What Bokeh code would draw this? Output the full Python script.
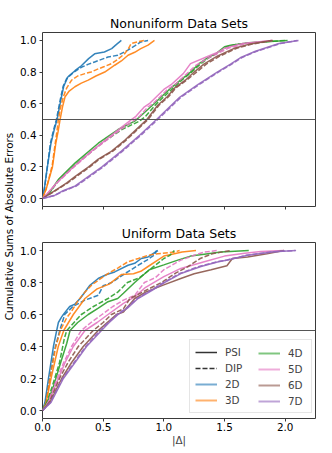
import numpy as np
from bokeh.plotting import figure
from bokeh.models import Range1d, Span, Legend, LegendItem, Label, FixedTicker
from bokeh.layouts import row, column
from bokeh.embed import file_html
from bokeh.resources import INLINE

FONT = "DejaVu Sans"

dims = ["2D", "3D", "4D", "5D", "6D", "7D"]
dim_colors = ["#1f77b4", "#ff7f0e", "#2ca02c", "#e377c2", "#8c564b", "#9467bd"]
methods = ["PSI", "DIP"]
panel_titles = ["Nonuniform Data Sets", "Uniform Data Sets"]
x_tick_values = [0.0, 0.5, 1.0, 1.5, 2.0]
x_tick_labels = ["0.0", "0.5", "1.0", "1.5", "2.0"]
y_tick_values = [0.0, 0.2, 0.4, 0.6, 0.8, 1.0]
y_tick_labels = ["0.0", "0.2", "0.4", "0.6", "0.8", "1.0"]
y_label = "Cumulative Sums of Absolute Errors"
x_label = "|Δ|"

# ---------------- Nonuniform data sets ----------------
nu_2d_psi_x = [0, 0.015, 0.04, 0.07, 0.095, 0.12, 0.15, 0.175, 0.21, 0.27, 0.32, 0.38, 0.43, 0.51, 0.57, 0.61, 0.65]
nu_2d_psi_y = [0, 0.06, 0.2, 0.35, 0.43, 0.5, 0.62, 0.71, 0.77, 0.81, 0.84, 0.885, 0.915, 0.927, 0.948, 0.975, 1.0]
nu_2d_dip_x = [0, 0.015, 0.04, 0.065, 0.09, 0.115, 0.145, 0.17, 0.2, 0.26, 0.32, 0.38, 0.43, 0.54, 0.62, 0.70, 0.76, 0.81, 0.87]
nu_2d_dip_y = [0, 0.06, 0.2, 0.35, 0.43, 0.5, 0.62, 0.71, 0.76, 0.80, 0.83, 0.85, 0.864, 0.895, 0.906, 0.937, 0.965, 0.99, 1.0]
nu_3d_psi_x = [0, 0.03, 0.06, 0.082, 0.11, 0.13, 0.145, 0.165, 0.186, 0.22, 0.267, 0.32, 0.377, 0.44, 0.513, 0.56, 0.595, 0.65, 0.705, 0.76, 0.81, 0.87, 0.923]
nu_3d_psi_y = [0, 0.06, 0.14, 0.2, 0.35, 0.43, 0.5, 0.58, 0.644, 0.68, 0.707, 0.73, 0.749, 0.775, 0.80, 0.825, 0.843, 0.87, 0.906, 0.925, 0.948, 0.97, 1.0]
nu_3d_dip_x = [0, 0.03, 0.06, 0.08, 0.105, 0.12, 0.131, 0.15, 0.172, 0.2, 0.24, 0.29, 0.35, 0.4, 0.46, 0.51, 0.568, 0.62, 0.677, 0.71, 0.73, 0.78, 0.84]
nu_3d_dip_y = [0, 0.06, 0.15, 0.21, 0.35, 0.43, 0.5, 0.58, 0.644, 0.70, 0.749, 0.775, 0.79, 0.80, 0.82, 0.835, 0.853, 0.88, 0.916, 0.95, 0.98, 0.99, 1.0]
nu_4d_psi_x = [0, 0.06, 0.13, 0.27, 0.46, 0.62, 0.76, 0.82, 0.92, 0.98, 1.06, 1.14, 1.22, 1.29, 1.36, 1.43, 1.5, 1.55, 1.7, 2.02]
nu_4d_psi_y = [0, 0.04, 0.12, 0.226, 0.35, 0.435, 0.49, 0.53, 0.6, 0.644, 0.7, 0.75, 0.8, 0.853, 0.89, 0.916, 0.96, 0.969, 0.985, 1.0]
nu_4d_dip_x = [0, 0.06, 0.14, 0.29, 0.49, 0.65, 0.80, 0.85, 0.94, 1.0, 1.08, 1.15, 1.23, 1.30, 1.37, 1.44, 1.52, 1.6, 1.8, 2.0]
nu_4d_dip_y = [0, 0.04, 0.12, 0.226, 0.351, 0.435, 0.49, 0.52, 0.6, 0.644, 0.7, 0.75, 0.8, 0.85, 0.89, 0.92, 0.96, 0.975, 0.99, 1.0]
nu_5d_psi_x = [0, 0.05, 0.117, 0.254, 0.404, 0.568, 0.65, 0.73, 0.77, 0.84, 0.88, 1.0, 1.06, 1.16, 1.22, 1.35, 1.43, 1.5, 1.65, 1.89]
nu_5d_psi_y = [0, 0.04, 0.1, 0.2, 0.3, 0.4, 0.45, 0.498, 0.52, 0.58, 0.6, 0.69, 0.72, 0.79, 0.853, 0.895, 0.92, 0.95, 0.98, 1.0]
nu_5d_dip_x = [0, 0.05, 0.12, 0.26, 0.41, 0.58, 0.67, 0.76, 0.80, 0.87, 0.91, 1.03, 1.09, 1.19, 1.26, 1.37, 1.45, 1.53, 1.68, 1.9]
nu_5d_dip_y = [0, 0.04, 0.1, 0.2, 0.3, 0.4, 0.45, 0.498, 0.52, 0.58, 0.6, 0.69, 0.72, 0.79, 0.84, 0.89, 0.92, 0.95, 0.98, 1.0]
nu_6d_psi_x = [0, 0.08, 0.2, 0.27, 0.38, 0.46, 0.57, 0.68, 0.75, 0.86, 0.95, 1.03, 1.09, 1.18, 1.25, 1.33, 1.44, 1.58, 1.70, 1.89]
nu_6d_psi_y = [0, 0.04, 0.1, 0.14, 0.2, 0.25, 0.3, 0.37, 0.42, 0.5, 0.59, 0.645, 0.7, 0.75, 0.8, 0.85, 0.9, 0.95, 0.975, 1.0]
nu_6d_dip_x = [0, 0.085, 0.21, 0.28, 0.39, 0.47, 0.58, 0.69, 0.76, 0.87, 0.96, 1.04, 1.1, 1.19, 1.27, 1.35, 1.46, 1.6, 1.72, 1.9]
nu_6d_dip_y = [0, 0.04, 0.1, 0.14, 0.2, 0.25, 0.3, 0.37, 0.42, 0.5, 0.59, 0.645, 0.7, 0.75, 0.8, 0.85, 0.9, 0.95, 0.975, 1.0]
nu_7d_psi_x = [0, 0.1, 0.17, 0.27, 0.38, 0.49, 0.65, 0.80, 0.94, 1.13, 1.28, 1.44, 1.55, 1.63, 1.75, 1.83, 1.95, 2.11]
nu_7d_psi_y = [0, 0.02, 0.05, 0.08, 0.14, 0.2, 0.3, 0.4, 0.5, 0.64, 0.72, 0.8, 0.85, 0.89, 0.93, 0.95, 0.98, 1.0]
nu_7d_dip_x = [0, 0.1, 0.18, 0.28, 0.39, 0.5, 0.66, 0.81, 0.95, 1.14, 1.29, 1.45, 1.56, 1.64, 1.76, 1.84, 1.96, 2.1]
nu_7d_dip_y = [0, 0.02, 0.05, 0.08, 0.14, 0.2, 0.3, 0.4, 0.5, 0.64, 0.72, 0.8, 0.85, 0.89, 0.93, 0.95, 0.98, 1.0]

# ---------------- Uniform data sets ----------------
u_2d_psi_x = [0, 0.02, 0.049, 0.09, 0.117, 0.131, 0.158, 0.172, 0.224, 0.267, 0.31, 0.35, 0.388, 0.459, 0.53, 0.595, 0.705, 0.76, 0.814, 0.87, 0.951]
u_2d_psi_y = [0, 0.05, 0.2, 0.4, 0.5, 0.55, 0.585, 0.6, 0.65, 0.665, 0.7, 0.741, 0.78, 0.825, 0.85, 0.866, 0.908, 0.92, 0.95, 0.96, 1.0]
u_2d_dip_x = [0, 0.025, 0.06, 0.1, 0.142, 0.183, 0.25, 0.35, 0.46, 0.5, 0.57, 0.68, 0.79, 0.86, 0.92, 0.94]
u_2d_dip_y = [0, 0.05, 0.2, 0.38, 0.5, 0.6, 0.65, 0.69, 0.72, 0.78, 0.80, 0.856, 0.908, 0.94, 0.97, 1.0]
u_3d_psi_x = [0, 0.03, 0.07, 0.13, 0.175, 0.254, 0.35, 0.45, 0.55, 0.65, 0.75, 0.81, 0.87, 0.95, 1.0, 1.06, 1.15, 1.265]
u_3d_psi_y = [0, 0.05, 0.2, 0.4, 0.5, 0.6, 0.7, 0.76, 0.79, 0.85, 0.855, 0.87, 0.9, 0.94, 0.965, 0.975, 0.99, 1.0]
u_3d_dip_x = [0, 0.03, 0.06, 0.11, 0.147, 0.2, 0.24, 0.295, 0.35, 0.404, 0.47, 0.54, 0.62, 0.705, 0.79, 0.869, 0.95, 1.087, 1.13]
u_3d_dip_y = [0, 0.05, 0.2, 0.4, 0.5, 0.58, 0.62, 0.689, 0.74, 0.783, 0.82, 0.856, 0.89, 0.93, 0.95, 0.97, 0.98, 0.99, 1.0]
u_4d_psi_x = [0, 0.04, 0.09, 0.15, 0.2, 0.227, 0.29, 0.377, 0.46, 0.54, 0.62, 0.667, 0.76, 0.88, 1.0, 1.115, 1.22, 1.333, 1.47, 1.70]
u_4d_psi_y = [0, 0.05, 0.15, 0.3, 0.42, 0.5, 0.55, 0.6, 0.64, 0.68, 0.7, 0.733, 0.8, 0.88, 0.91, 0.94, 0.965, 0.977, 0.99, 1.0]
u_4d_dip_x = [0, 0.035, 0.08, 0.14, 0.18, 0.2, 0.26, 0.32, 0.42, 0.54, 0.62, 0.667, 0.70, 0.8, 0.9, 1.0, 1.05, 1.087]
u_4d_dip_y = [0, 0.05, 0.15, 0.3, 0.45, 0.5, 0.55, 0.6, 0.65, 0.7, 0.74, 0.775, 0.8, 0.83, 0.89, 0.95, 0.97, 1.0]
u_5d_psi_x = [0, 0.05, 0.131, 0.186, 0.254, 0.35, 0.45, 0.54, 0.667, 0.76, 0.85, 1.0, 1.14, 1.333, 1.5, 1.667, 1.8, 1.99]
u_5d_psi_y = [0, 0.05, 0.2, 0.3, 0.4, 0.5, 0.55, 0.6, 0.67, 0.71, 0.77, 0.837, 0.888, 0.93, 0.965, 0.983, 0.993, 1.0]
u_5d_dip_x = [0, 0.045, 0.12, 0.175, 0.24, 0.32, 0.4, 0.49, 0.58, 0.667, 0.76, 0.84, 0.93, 1.0, 1.14, 1.25, 1.333, 1.44]
u_5d_dip_y = [0, 0.05, 0.2, 0.3, 0.4, 0.5, 0.55, 0.6, 0.65, 0.69, 0.72, 0.8, 0.83, 0.88, 0.94, 0.97, 0.99, 1.0]
u_6d_psi_x = [0, 0.06, 0.158, 0.24, 0.336, 0.459, 0.55, 0.609, 0.667, 0.76, 0.85, 1.0, 1.14, 1.25, 1.39, 1.52, 1.565, 1.69, 1.85, 1.99]
u_6d_psi_y = [0, 0.05, 0.2, 0.3, 0.4, 0.5, 0.56, 0.6, 0.615, 0.7, 0.74, 0.785, 0.825, 0.855, 0.88, 0.905, 0.95, 0.96, 0.98, 1.0]
u_6d_dip_x = [0, 0.055, 0.14, 0.21, 0.295, 0.418, 0.5, 0.568, 0.667, 0.72, 0.85, 0.98, 1.1, 1.2, 1.3, 1.4, 1.55]
u_6d_dip_y = [0, 0.05, 0.2, 0.3, 0.4, 0.5, 0.55, 0.6, 0.635, 0.7, 0.75, 0.8, 0.86, 0.9, 0.95, 0.98, 1.0]
u_7d_psi_x = [0, 0.07, 0.172, 0.268, 0.363, 0.486, 0.55, 0.623, 0.7, 0.787, 0.9, 1.005, 1.14, 1.306, 1.45, 1.525, 1.69, 1.907, 2.09]
u_7d_psi_y = [0, 0.05, 0.2, 0.3, 0.4, 0.5, 0.55, 0.6, 0.64, 0.7, 0.75, 0.8, 0.856, 0.9, 0.93, 0.94, 0.97, 0.992, 1.0]
u_7d_dip_x = [0, 0.065, 0.165, 0.26, 0.355, 0.475, 0.54, 0.615, 0.69, 0.78, 0.89, 1.0, 1.13, 1.29, 1.44, 1.52, 1.68, 1.9, 2.08]
u_7d_dip_y = [0, 0.05, 0.2, 0.3, 0.4, 0.5, 0.55, 0.6, 0.64, 0.7, 0.75, 0.8, 0.856, 0.9, 0.93, 0.94, 0.97, 0.992, 1.0]

nonuniform = {
    "2D": ((nu_2d_psi_x, nu_2d_psi_y), (nu_2d_dip_x, nu_2d_dip_y)),
    "3D": ((nu_3d_psi_x, nu_3d_psi_y), (nu_3d_dip_x, nu_3d_dip_y)),
    "4D": ((nu_4d_psi_x, nu_4d_psi_y), (nu_4d_dip_x, nu_4d_dip_y)),
    "5D": ((nu_5d_psi_x, nu_5d_psi_y), (nu_5d_dip_x, nu_5d_dip_y)),
    "6D": ((nu_6d_psi_x, nu_6d_psi_y), (nu_6d_dip_x, nu_6d_dip_y)),
    "7D": ((nu_7d_psi_x, nu_7d_psi_y), (nu_7d_dip_x, nu_7d_dip_y)),
}
uniform = {
    "2D": ((u_2d_psi_x, u_2d_psi_y), (u_2d_dip_x, u_2d_dip_y)),
    "3D": ((u_3d_psi_x, u_3d_psi_y), (u_3d_dip_x, u_3d_dip_y)),
    "4D": ((u_4d_psi_x, u_4d_psi_y), (u_4d_dip_x, u_4d_dip_y)),
    "5D": ((u_5d_psi_x, u_5d_psi_y), (u_5d_dip_x, u_5d_dip_y)),
    "6D": ((u_6d_psi_x, u_6d_psi_y), (u_6d_dip_x, u_6d_dip_y)),
    "7D": ((u_7d_psi_x, u_7d_psi_y), (u_7d_dip_x, u_7d_dip_y)),
}

TICK_FS = "10.4px"
DASH = "5 2"
MAIN_W = 315
LAB_W = 16


def make_panel(title, data, height, border_top, border_bottom, show_x_labels):
    p = figure(width=MAIN_W, height=height, x_range=Range1d(0, 2.25), y_range=Range1d(-0.05, 1.05),
               output_backend="svg", toolbar_location=None,
               min_border_left=25, min_border_right=16,
               min_border_top=border_top, min_border_bottom=border_bottom)
    p.title.text = title
    p.title.align = "center"
    p.title.text_font = FONT
    p.title.text_font_size = "12.5px"
    p.title.text_font_style = "normal"
    p.title.text_color = "black"
    p.title.standoff = 4
    p.grid.visible = False
    p.outline_line_color = "#3a3a3a"
    p.outline_line_width = 1
    for ax in (p.xaxis[0], p.yaxis[0]):
        ax.axis_line_color = None
        ax.major_tick_out = 3
        ax.major_tick_in = 0
        ax.major_tick_line_color = "#3a3a3a"
        ax.minor_tick_line_color = None
        ax.major_label_text_font = FONT
        ax.major_label_text_font_size = TICK_FS
        ax.major_label_text_color = "black"
    p.xaxis.ticker = FixedTicker(ticks=x_tick_values)
    p.yaxis.ticker = FixedTicker(ticks=y_tick_values)
    p.yaxis.major_label_overrides = dict(zip(y_tick_values, y_tick_labels))
    p.yaxis.major_label_standoff = 3
    if show_x_labels:
        p.xaxis.major_label_overrides = dict(zip(x_tick_values, x_tick_labels))
        p.xaxis.major_label_standoff = 1
        p.xaxis.axis_label = x_label
        p.xaxis.axis_label_text_font = FONT
        p.xaxis.axis_label_text_font_size = TICK_FS
        p.xaxis.axis_label_text_font_style = "normal"
        p.xaxis.axis_label_standoff = 0
    else:
        # shared x axis: tick marks only
        p.xaxis.major_label_overrides = {v: "" for v in x_tick_values}
        p.xaxis.major_label_text_color = None
        p.xaxis.major_label_standoff = 0

    p.add_layout(Span(location=0.5, dimension="width", line_color="#555555", line_width=1))

    for d, c in zip(dims, dim_colors):
        (px, py), (dx, dy) = data[d]
        p.line(px, py, line_color=c, line_width=1.5, line_alpha=0.9)
        p.line(dx, dy, line_color=c, line_width=1.5, line_alpha=0.9, line_dash=DASH)
    return p


top = make_panel(panel_titles[0], nonuniform, 218, 32, 12, False)
bottom = make_panel(panel_titles[1], uniform, 234, 24, 34, True)

# legend (dummy handles outside the visible x range)
r_psi = bottom.line([-2, -1], [0, 0], line_color="#333333", line_width=1.5)
r_dip = bottom.line([-2, -1], [0, 0], line_color="#333333", line_width=1.5, line_dash=DASH)
dim_handles = [bottom.line([-2, -1], [0, 0], line_color=c, line_width=2, line_alpha=0.6) for c in dim_colors]

leg_common = dict(label_text_font=FONT, label_text_font_size=TICK_FS, glyph_width=22, glyph_height=14,
                  label_height=14, spacing=2, padding=5, label_standoff=8, margin=0)
leg1 = Legend(items=[LegendItem(label=methods[0], renderers=[r_psi]),
                     LegendItem(label=methods[1], renderers=[r_dip]),
                     LegendItem(label=dims[0], renderers=[dim_handles[0]]),
                     LegendItem(label=dims[1], renderers=[dim_handles[1]])],
              location=(147, 5), label_width=81, border_line_color="#cccccc",
              background_fill_alpha=0.85, **leg_common)
leg2 = Legend(items=[LegendItem(label=dims[i], renderers=[dim_handles[i]]) for i in range(2, 6)],
              location=(216, 10), border_line_color=None, background_fill_alpha=0.0, **leg_common)
bottom.add_layout(leg1)
bottom.add_layout(leg2)

# shared y label
lab = figure(width=LAB_W, height=452, x_range=Range1d(0, 1), y_range=Range1d(0, 1),
             output_backend="svg", toolbar_location=None, min_border_left=0, min_border_right=0,
             min_border_top=0, min_border_bottom=0, outline_line_color=None,
             x_axis_location=None, y_axis_location=None)
lab.grid.visible = False
lab.add_layout(Label(x=0.5, y=0.5, text=y_label, angle=np.pi / 2, text_align="center",
                     text_baseline="middle", text_font=FONT, text_font_size=TICK_FS, text_color="black"))

layout = row(lab, column(top, bottom))
open("out.html", "w").write(file_html(layout, INLINE))
